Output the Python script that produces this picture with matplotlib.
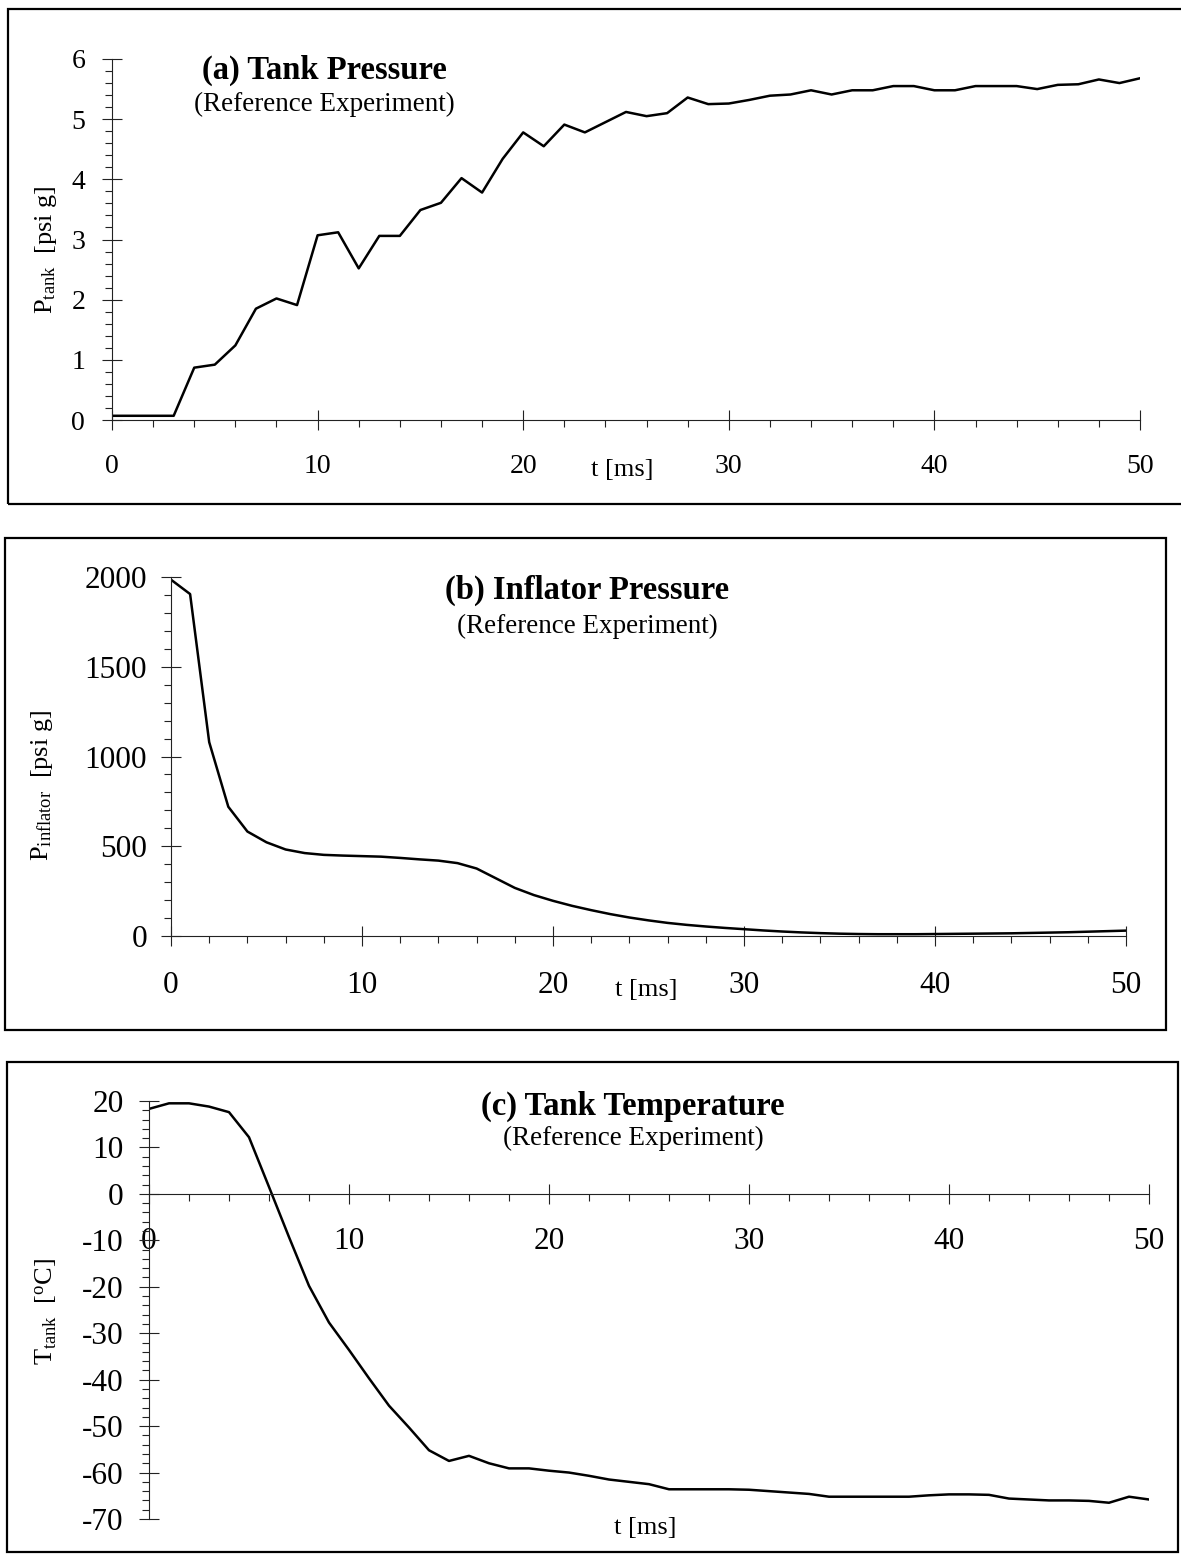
import matplotlib.pyplot as plt
from matplotlib.patches import Rectangle
from matplotlib.ticker import MultipleLocator

plt.rcParams['font.family'] = ['Liberation Serif', 'DejaVu Serif']
plt.rcParams['mathtext.fontset'] = 'custom'
plt.rcParams['mathtext.rm'] = 'Liberation Serif'
plt.rcParams['mathtext.it'] = 'Liberation Serif:italic'
plt.rcParams['axes.unicode_minus'] = False

# time base, 1 ms steps
t_ms = list(range(51))

# (a) tank pressure [psi g]
p_tank = [0.07, 0.07, 0.07, 0.07, 0.87, 0.92, 1.24, 1.85, 2.02, 1.91,
          3.07, 3.12, 2.52, 3.06, 3.06, 3.49, 3.61, 4.02, 3.78, 4.34,
          4.78, 4.55, 4.91, 4.78, 4.95, 5.12, 5.05, 5.10, 5.36, 5.25,
          5.26, 5.32, 5.39, 5.41, 5.48, 5.41, 5.48, 5.48, 5.55, 5.55,
          5.48, 5.48, 5.55, 5.55, 5.55, 5.50, 5.57, 5.58, 5.66, 5.60,
          5.68]

# (b) inflator pressure [psi g]
p_inflator = [1985, 1905, 1080, 720, 582, 522, 482, 462, 452, 448,
              445, 442, 435, 427, 420, 406, 376, 322, 268, 228,
              196, 168, 144, 122, 103, 87, 73, 62, 53, 45,
              38, 31, 25, 20, 16, 13, 11, 10, 10, 10,
              11, 12, 13, 14, 15, 17, 19, 21, 24, 27, 30]

# (c) tank temperature [deg C]
t_tank = [18.3, 19.5, 19.5, 18.8, 17.6, 12.2, 1.5, -9.3, -19.8, -27.7,
          -33.6, -39.7, -45.6, -50.3, -55.2, -57.5, -56.4, -58.0, -59.1, -59.1,
          -59.6, -60.0, -60.7, -61.5, -62.0, -62.5, -63.6, -63.6, -63.6, -63.6,
          -63.7, -64.0, -64.3, -64.6, -65.2, -65.2, -65.2, -65.2, -65.2, -64.9,
          -64.7, -64.7, -64.8, -65.6, -65.8, -66.0, -66.0, -66.1, -66.5, -65.2,
          -65.8]

W, H = 1181, 1556
fig = plt.figure(figsize=(W / 100, H / 100), dpi=100)


def fx(px):
    return px / W


def fy(py):
    return 1 - py / H


def panel(x0, x1, ytop, ybot):
    return fig.add_axes([fx(x0), fy(ybot), (x1 - x0) / W, (ybot - ytop) / H])


def style(ax, size, ymaj, ymin, xpad, ypad):
    ax.patch.set_visible(False)
    for s in ['top', 'right']:
        ax.spines[s].set_visible(False)
    for s in ['bottom', 'left']:
        ax.spines[s].set_position(('data', 0))
        ax.spines[s].set_linewidth(0.8)
        ax.spines[s].set_color('#222222')
    ax.xaxis.set_major_locator(MultipleLocator(10))
    ax.xaxis.set_minor_locator(MultipleLocator(2))
    ax.yaxis.set_major_locator(MultipleLocator(ymaj))
    ax.yaxis.set_minor_locator(MultipleLocator(ymin))
    ax.tick_params(which='major', direction='inout', length=14, width=0.8,
                   color='#222222', labelsize=size)
    ax.tick_params(which='minor', direction='out', length=5, width=0.8,
                   color='#222222')
    ax.tick_params(axis='x', which='major', pad=xpad)
    ax.tick_params(axis='y', which='major', pad=ypad)


def box(x0, x1, ytop, ybot):
    fig.patches.append(Rectangle((fx(x0), fy(ybot)), (x1 - x0) / W, (ybot - ytop) / H,
                                 transform=fig.transFigure, fill=False,
                                 lw=1.6, ec='black'))


def heading(cx, cy, title, scy):
    fig.text(fx(cx), fy(cy), title, fontsize=23.5, fontweight='bold',
             ha='center', va='center')
    fig.text(fx(cx), fy(scy), '(Reference Experiment)', fontsize=19.5,
             ha='center', va='center')


# (a) tank pressure
box(8, 1200, 9, 504)
ax1 = panel(112, 1140, 59, 420)
ax1.plot(t_ms, p_tank, color='black', lw=1.8)
ax1.set_xlim(0, 50)
ax1.set_ylim(0, 6)
style(ax1, 20, 1, 0.2, 17.5, 12.3)
ax1.text(24.8, -0.83, 't [ms]', fontsize=19, ha='center', va='center')
heading(324, 70, '(a) Tank Pressure', 104)
fig.text(fx(46), fy(250), r'P$_{\mathrm{tank}}$  [psi g]', fontsize=19,
         rotation=90, ha='center', va='center')

# (b) inflator pressure
box(5, 1166, 538, 1030)
ax2 = panel(171, 1126, 577, 936)
ax2.plot(t_ms, p_inflator, color='black', lw=1.8)
ax2.set_xlim(0, 50)
ax2.set_ylim(0, 2000)
style(ax2, 22.5, 500, 100, 18, 10.2)
ax2.text(24.9, -300, 't [ms]', fontsize=19, ha='center', va='center')
heading(587, 590, '(b) Inflator Pressure', 626)
fig.text(fx(42), fy(785), r'P$_{\mathrm{inflator}}$  [psi g]', fontsize=19,
         rotation=90, ha='center', va='center')

# (c) tank temperature
box(7, 1178, 1062, 1552)
ax3 = panel(149, 1149, 1101, 1519)
ax3.plot(t_ms, t_tank, color='black', lw=1.8)
ax3.set_xlim(0, 50)
ax3.set_ylim(-70, 20)
style(ax3, 22.5, 10, 2, 17, 11.2)
ax3.text(24.8, -71.9, 't [ms]', fontsize=19, ha='center', va='center')
heading(633, 1106, '(c) Tank Temperature', 1138)
fig.text(fx(46), fy(1311), r'T$_{\mathrm{tank}}$  [$^{\mathrm{o}}$C]', fontsize=19,
         rotation=90, ha='center', va='center')

fig.savefig('out.png', dpi=100)
